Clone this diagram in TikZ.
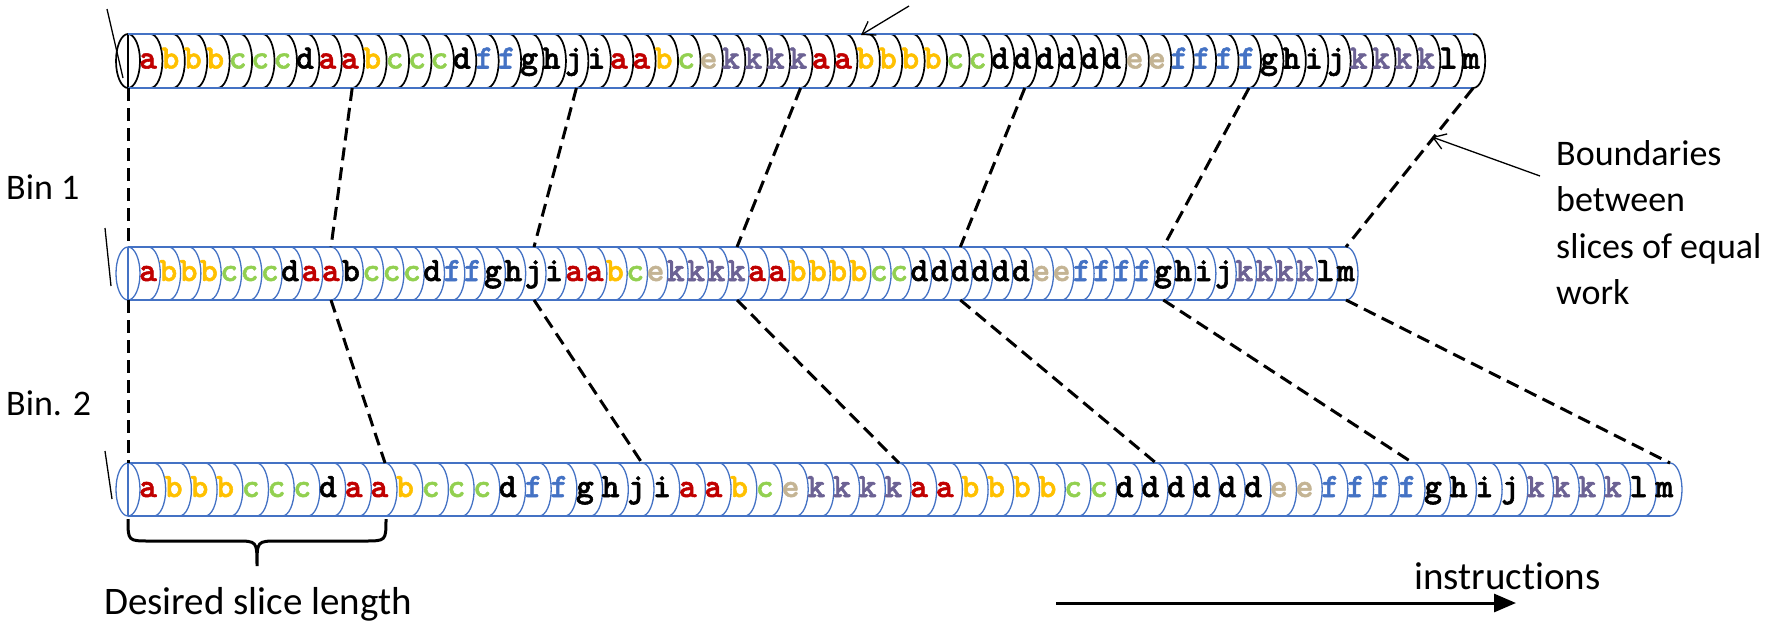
\documentclass[tikz,border=0pt]{standalone}
\usepackage{fontspec}
\usetikzlibrary{arrows.meta}
\newfontfamily\calib[Ligatures=NoCommon]{Carlito}
\newfontfamily\monob[FakeBold=1.6]{lmmonolt10-bold.otf}
\definecolor{cblue}{RGB}{68,114,196}
\definecolor{cred}{RGB}{192,0,0}
\definecolor{cyel}{RGB}{255,192,0}
\definecolor{cgrn}{RGB}{146,208,80}
\definecolor{ctan}{RGB}{196,180,148}
\definecolor{cpur}{RGB}{108,98,148}
\expandafter\def\csname lc-a\endcsname{cred}
\expandafter\def\csname lc-b\endcsname{cyel}
\expandafter\def\csname lc-c\endcsname{cgrn}
\expandafter\def\csname lc-d\endcsname{black}
\expandafter\def\csname lc-e\endcsname{ctan}
\expandafter\def\csname lc-f\endcsname{cblue}
\expandafter\def\csname lc-g\endcsname{black}
\expandafter\def\csname lc-h\endcsname{black}
\expandafter\def\csname lc-i\endcsname{black}
\expandafter\def\csname lc-j\endcsname{black}
\expandafter\def\csname lc-k\endcsname{cpur}
\expandafter\def\csname lc-l\endcsname{black}
\expandafter\def\csname lc-m\endcsname{black}
\def\seq{a,b,b,b,c,c,c,d,a,a,b,c,c,c,d,f,f,g,h,j,i,a,a,b,c,e,k,k,k,k,a,a,b,b,b,b,c,c,d,d,d,d,d,d,e,e,f,f,f,f,g,h,i,j,k,k,k,k,l,m}
% #1 id, #2 pitch, #3 top, #4 bottom, #5 rx, #6 ring style, #7 letter forced black
\newcommand\myrow[7]{%
  \pgfmathsetmacro\hh{(#4-#3)/2}%
  \pgfmathsetmacro\cy{(#3+#4)/2}%
  \draw[#6] (128,\cy) ellipse[x radius=#5, y radius=\hh];
  \draw[#6] (128,#3) -- (128,#4);
  \foreach \k in {1,...,60}{\draw[#6] ({128+\k*#2},#3) arc[start angle=-90,end angle=90,x radius=#5,y radius=\hh];}
  \draw[cyl] (128,#3) -- ({128+60*#2},#3);
  \draw[cyl] (128,#4) -- ({128+60*#2},#4);
  \foreach \ch [count=\i] in \seq {%
    \edef\cc{\csname lc-\ch\endcsname}%
    \ifnum\i=#7 \def\cc{black}\fi
    \node[lt,text=\cc] (r#1c\i) at ({148+(\i-1)*#2},{\cy+7.5}) {\ch};
  }%
}
\begin{document}
\begin{tikzpicture}[x=1pt,y=-1pt,
  lt/.style={font=\monob\fontsize{34}{34}\selectfont, inner sep=0pt, anchor=base},
  lbl/.style={font=\calib\fontsize{36}{46.5}\selectfont, inner sep=0pt},
  biglbl/.style={font=\calib\fontsize{39}{46.5}\selectfont, inner sep=0pt},
  cyl/.style={cblue, line width=2.5pt},
  blackring/.style={black, line width=1.7pt},
  bluering/.style={cblue, line width=1.3pt},
  bnd/.style={line width=3pt, dash pattern=on 13pt off 7pt},
  tick/.style={line width=1.3pt},
  ]
\useasboundingbox (0,0) rectangle (1781,622);

\myrow{1}{22.42}{34}{88}{12}{blackring}{0}
\myrow{2}{20.3}{247}{300}{12}{bluering}{11}
\myrow{3}{25.7}{463}{516}{12}{bluering}{0}

% left ticks
\coordinate (k1a) at (107,9);   \coordinate (k1b) at (123,78);
\coordinate (k2a) at (105,228); \coordinate (k2b) at (111,286);
\coordinate (k3a) at (105,451); \coordinate (k3b) at (112,499);
\draw[tick] (k1a) -- (k1b);
\draw[tick] (k2a) -- (k2b);
\draw[tick] (k3a) -- (k3b);

% boundaries
\foreach \n/\a/\b/\c in {0/0/0/0,1/10/10/10,2/20/20/20,3/30/30/30,4/40/41/40,5/50/51/50,6/60/60/60}{
  \coordinate (u\n) at ({128+\a*22.42},88);
  \coordinate (m\n) at ({128+\b*20.3},247);
  \coordinate (w\n) at ({128+\b*20.3},300);
  \coordinate (v\n) at ({128+\c*25.7},463);
  \draw[bnd] (u\n) -- (m\n);
  \draw[bnd] (w\n) -- (v\n);
}

% labels
\node[lbl,anchor=base west] (bin1) at (6,199) {Bin 1};
\node[lbl,anchor=base west] (bin2) at (6,415) {Bin. 2};
\node[lbl,anchor=north west,align=left] (bdry) at (1556,140) {Boundaries\\between\\slices of equal\\work};
\node[biglbl,anchor=base west] (dsl) at (104,614) {Desired slice length};
\node[biglbl,anchor=base west] (ins) at (1414,589) {instructions};

% arrows
\coordinate (ta) at (909,6); \coordinate (tb) at (861,35);
\draw[tick,-{Straight Barb[length=12pt,width=16pt]}] (ta) -- (tb);
\coordinate (ba) at (1540,176); \coordinate (bb) at (1432,137);
\draw[tick,-{Straight Barb[length=12pt,width=16pt]}] (ba) -- (bb);
\coordinate (ia) at (1056,603); \coordinate (ib) at (1516,603);
\draw[line width=3pt,-{Triangle[length=22pt,width=18pt]}] (ia) -- (ib);

% brace
\draw[line width=3pt] (128,519) .. controls (128,541) .. (150,541) -- (236,541)
  .. controls (257,541) .. (257,566) .. controls (257,541) .. (278,541)
  -- (364,541) .. controls (386,541) .. (386,519);
\end{tikzpicture}
\end{document}
